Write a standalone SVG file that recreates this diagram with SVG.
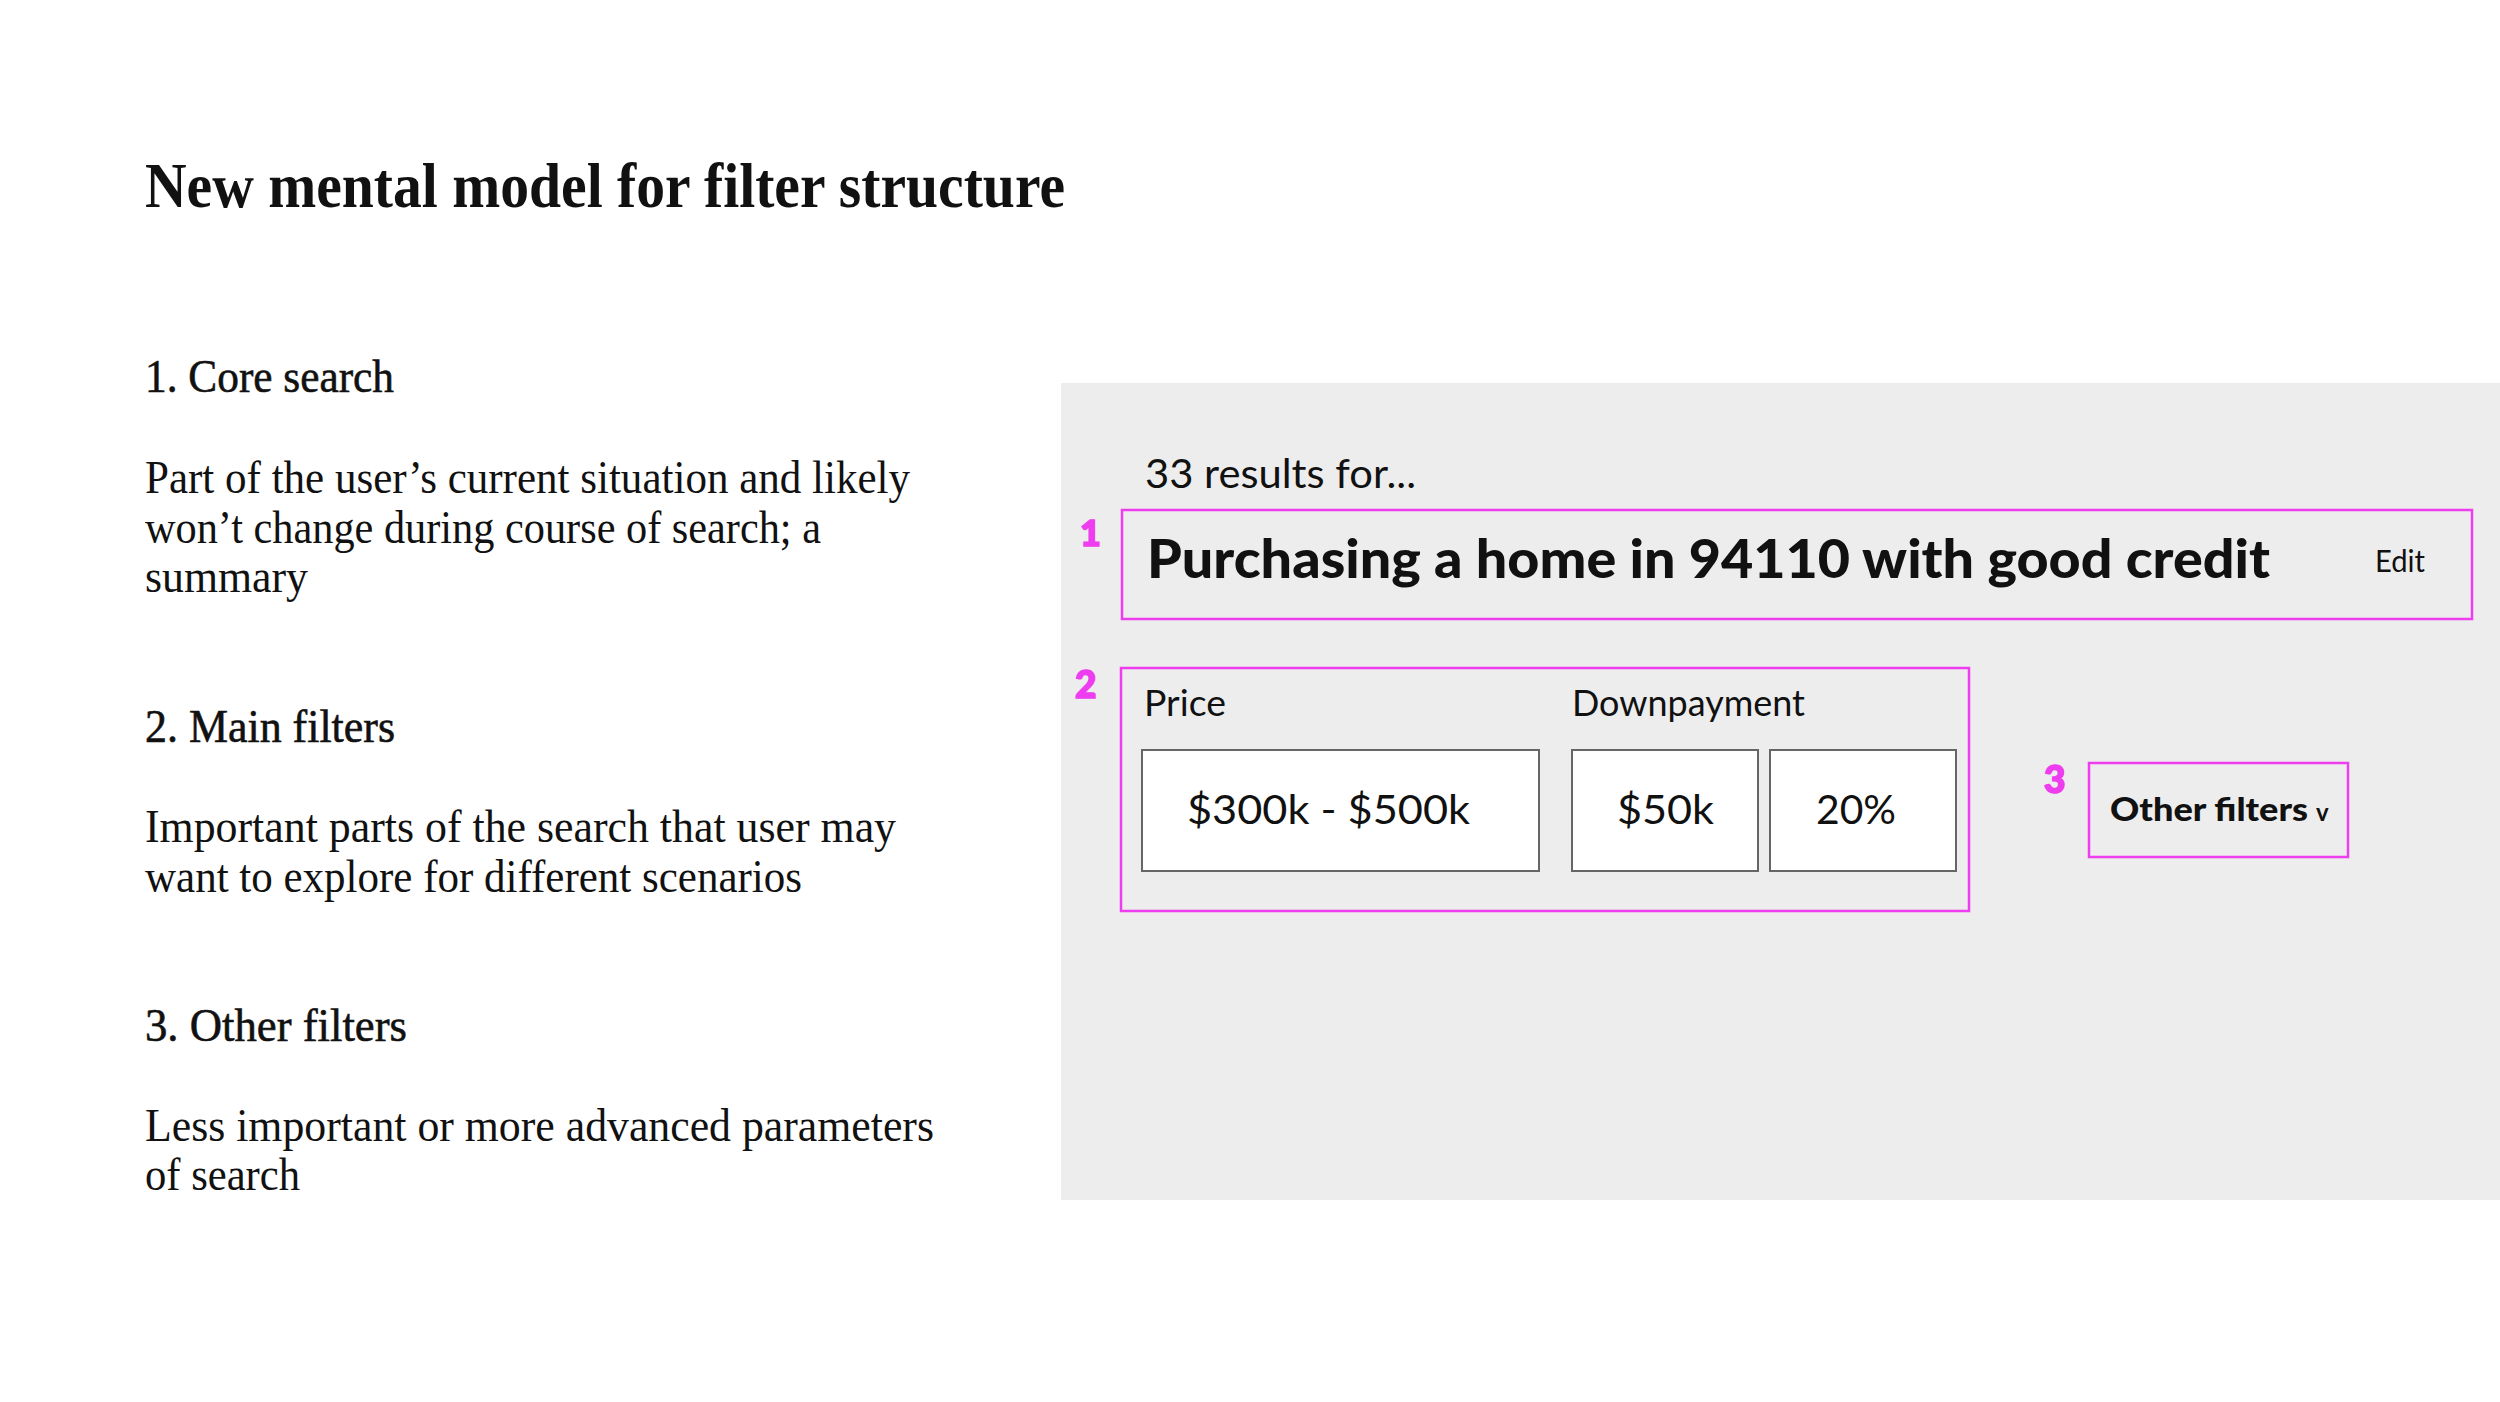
<svg xmlns="http://www.w3.org/2000/svg" width="2500" height="1402" viewBox="0 0 2500 1402">
<style>
.h1{font-family:"Liberation Serif",serif;font-weight:bold;font-size:64px;fill:#111}
.h2{font-family:"Liberation Serif",serif;font-size:47px;fill:#111;stroke:#111;stroke-width:0.6}
.body{font-family:"Liberation Serif",serif;font-size:46px;fill:#111}
.ui{font-family:Lato,"Liberation Sans",sans-serif;fill:#111}
.num{font-family:Lato,"Liberation Sans",sans-serif;font-weight:900;fill:#ee3cef;stroke:#ee3cef;stroke-width:1.6}
.hl{fill:none;stroke:#ee3cef;stroke-width:2.5}
.inp{fill:#fff;stroke:#666;stroke-width:2}
</style>
<rect width="2500" height="1402" fill="#fff"/>
<g id="left-text">
<text class="h1" x="145" y="207" textLength="920" lengthAdjust="spacingAndGlyphs">New mental model for filter structure</text>
<text class="h2" x="145" y="392" textLength="249" lengthAdjust="spacingAndGlyphs">1. Core search</text>
<text class="body" x="145" y="493" textLength="765" lengthAdjust="spacingAndGlyphs">Part of the user’s current situation and likely</text>
<text class="body" x="145" y="543" textLength="676" lengthAdjust="spacingAndGlyphs">won’t change during course of search; a</text>
<text class="body" x="145" y="592" textLength="163" lengthAdjust="spacingAndGlyphs">summary</text>
<text class="h2" x="145" y="742" textLength="250" lengthAdjust="spacingAndGlyphs">2. Main filters</text>
<text class="body" x="145" y="842" textLength="751" lengthAdjust="spacingAndGlyphs">Important parts of the search that user may</text>
<text class="body" x="145" y="892" textLength="657" lengthAdjust="spacingAndGlyphs">want to explore for different scenarios</text>
<text class="h2" x="145" y="1041" textLength="262" lengthAdjust="spacingAndGlyphs">3. Other filters</text>
<text class="body" x="145" y="1141" textLength="789" lengthAdjust="spacingAndGlyphs">Less important or more advanced parameters</text>
<text class="body" x="145" y="1190" textLength="155" lengthAdjust="spacingAndGlyphs">of search</text>
</g>
<g id="panel">
<rect x="1061" y="383" width="1439" height="817" fill="#ededed"/>
<text class="ui" x="1145" y="488" font-size="41" textLength="271" lengthAdjust="spacingAndGlyphs">33 results for...</text>
</g>
<g id="core-search">
<rect class="hl" x="1122" y="510" width="1350" height="109"/>
<text class="num" x="1080" y="546" font-size="36">1</text>
<text class="ui" x="1147" y="578" font-size="54" font-weight="900" textLength="1123" lengthAdjust="spacingAndGlyphs">Purchasing a home in 94110 with good credit</text>
<text class="ui" x="2375" y="572" font-size="30" textLength="50" lengthAdjust="spacingAndGlyphs">Edit</text>
</g>
<g id="main-filters">
<rect class="hl" x="1121" y="668" width="848" height="243"/>
<text class="num" x="1075" y="698" font-size="37">2</text>
<text class="ui" x="1144" y="716" font-size="37" textLength="82" lengthAdjust="spacingAndGlyphs">Price</text>
<text class="ui" x="1572" y="716" font-size="37" textLength="233" lengthAdjust="spacingAndGlyphs">Downpayment</text>
<rect class="inp" x="1142" y="750" width="397" height="121"/>
<text class="ui" x="1187" y="824" font-size="41" textLength="283" lengthAdjust="spacingAndGlyphs">$300k - $500k</text>
<rect class="inp" x="1572" y="750" width="186" height="121"/>
<text class="ui" x="1617" y="824" font-size="41" textLength="97" lengthAdjust="spacingAndGlyphs">$50k</text>
<rect class="inp" x="1770" y="750" width="186" height="121"/>
<text class="ui" x="1816" y="824" font-size="41" textLength="80" lengthAdjust="spacingAndGlyphs">20%</text>
</g>
<g id="other-filters">
<rect class="hl" x="2089" y="763" width="259" height="94"/>
<text class="num" x="2044" y="793" font-size="37">3</text>
<text class="ui" x="2110" y="821" font-size="33" font-weight="900" textLength="198" lengthAdjust="spacingAndGlyphs">Other filters</text>
<text class="ui" x="2316" y="821" font-size="24" font-weight="bold">v</text>
</g>
<g id="connectors"></g>
</svg>
